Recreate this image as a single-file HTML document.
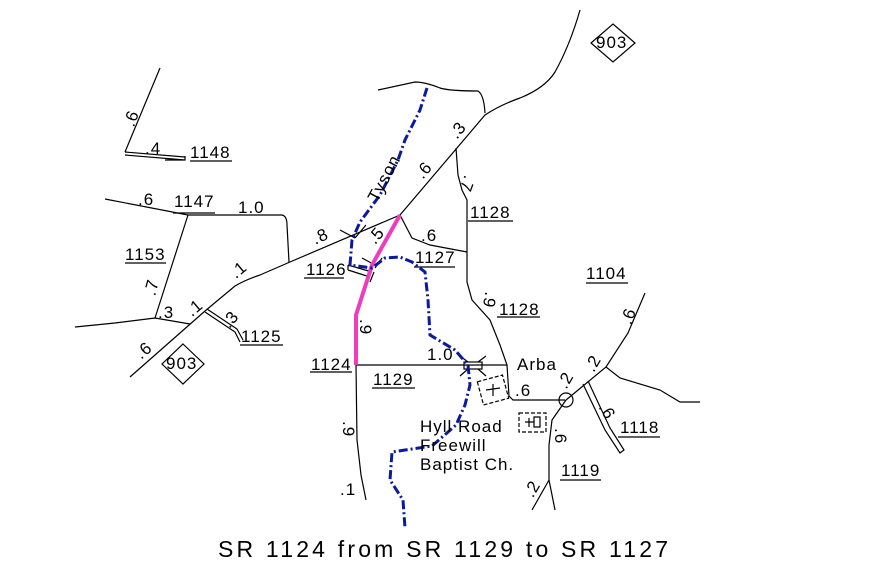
<!DOCTYPE html>
<html><head><meta charset="utf-8"><style>
html,body{margin:0;padding:0;background:#fff;width:878px;height:570px;overflow:hidden}
svg text{font-family:"Liberation Sans",sans-serif;font-size:17px;letter-spacing:1px;fill:#000}
</style></head><body>
<svg width="878" height="570" viewBox="0 0 878 570" xmlns="http://www.w3.org/2000/svg">
<g fill="none" stroke="#000" stroke-width="1.2">
<path d="M160 68 L125 152"/>
<path d="M125 152 L185 157 M125 155 L185 160 M185 156 L185 160 L165 160"/>
<line x1="190" y1="161" x2="232" y2="161"/>
<path d="M105 199 L188 215 L282 215 Q287 216 287 225 L289 262"/>
<line x1="173" y1="213" x2="215" y2="213"/>
<path d="M188 215 L155 318"/>
<line x1="125" y1="263" x2="166" y2="263"/>
<path d="M75 327 L115 323 L155 318 L190 324"/>
<path d="M130 377 L205 311 L235 286 Q245 280 260 275 L290 262 L400 215 L485 115 Q500 105 520 98 Q545 88 555 72 Q570 45 580 10"/>
<path d="M378 90 L415 82 Q425 82 440 88 Q450 91 478 91 Q484 95 485 113"/>
<path d="M205 312 L235 332 L240 342 M207 309 L237 329 L243 340"/>
<line x1="240" y1="345" x2="283" y2="345"/>
<path d="M400 215 L412 238 L430 245 L467 252"/>
<line x1="414" y1="267" x2="455" y2="267"/>
<path d="M456 148 L458 175 L462 190 L467 200 L467 252 L467 282 L472 300 L490 320 L500 345 L507 365 L509 396 L513 400 L565 400"/>
<line x1="468" y1="221" x2="513" y2="221"/>
<line x1="497" y1="317" x2="540" y2="317"/>
<path d="M356 365 L357 440 L361 475 L366 500"/>
<line x1="310" y1="372" x2="352" y2="372"/>
<path d="M356 365 L507 365"/>
<line x1="372" y1="388" x2="415" y2="388"/>
<rect x="464" y="362" width="18" height="7"/>
<path d="M460 356 L468 362 M486 356 L478 362 M460 376 L468 369 M486 376 L478 369"/>
<path d="M348 265 L372 272 M348 270 L370 277 M348 265 L348 270"/>
<line x1="304" y1="278" x2="344" y2="278"/>
<path d="M340 230 L355 238 M366 225 L355 238 M362 258 L375 265 M382 258 L375 268 M370 282 L374 272"/>
<circle cx="566" cy="400" r="7"/>
<path d="M566 400 L552 420 L549 445 L549 480 L532 510 M549 480 L555 510"/>
<path d="M566 400 L583 386 L606 367 L628 333 L645 293"/>
<path d="M606 367 L620 378 L660 390 L680 402 L700 402"/>
<path d="M583 384 L605 430 L620 453 L624 450 L610 428 L588 381"/>
<line x1="560" y1="480" x2="601" y2="480"/>
<line x1="618" y1="437" x2="660" y2="437"/>
<line x1="586" y1="283" x2="628" y2="283"/>
<rect x="480" y="378" width="26" height="24" stroke-dasharray="4,2" transform="rotate(-15 493 390)"/>
<path d="M486 390 L500 388 M493 384 L493 396"/>
<rect x="519" y="413" width="27" height="19" stroke-dasharray="4,2"/>
<path d="M525 422 L534 422 M529 418 L529 427 M534 417 L540 417 L540 427 L534 427 Z"/>
<path d="M613 24 L635 43 L613 62 L591 43 Z"/>
<path d="M183 344 L204 364 L183 384 L162 364 Z"/>
</g>
<path d="M400 215 L372 265 L356 315 L356 365" fill="none" stroke="#ee3cc0" stroke-width="4"/>
<path d="M427 88 L420 110 L405 140 L398 160 L380 195 L360 222 L352 240 L350 265 L372 268 L385 258 L400 257 L412 262 L425 272 L428 300 L430 335 L455 350 L468 365 L470 385 L465 405 L456 425 L432 446 L392 452 L390 480 L403 500 L405 528" fill="none" stroke="#0a1a9e" stroke-width="3" stroke-dasharray="9,3,2,3"/>
<g>
<text x="122" y="125" transform="rotate(-70 130 118)">.6</text>
<text x="145" y="154">.4</text>
<text x="190" y="158">1148</text>
<text x="138" y="205">.6</text>
<text x="174" y="207">1147</text>
<text x="238" y="213">1.0</text>
<text x="125" y="260">1153</text>
<text x="143" y="295" transform="rotate(-75 150 288)">.7</text>
<text x="158" y="318">.3</text>
<text x="186" y="315" transform="rotate(-40 192 308)">.1</text>
<text x="222" y="327" transform="rotate(-50 228 320)">.3</text>
<text x="241" y="342">1125</text>
<text x="135" y="357" transform="rotate(-40 142 350)">.6</text>
<text x="166" y="369" font-size="15" letter-spacing="0">903</text>
<text x="596" y="48" font-size="15" letter-spacing="0">903</text>
<text x="230" y="277" transform="rotate(-40 236 270)">.1</text>
<text x="312" y="242" transform="rotate(-25 320 236)">.8</text>
<text x="355" y="190" transform="rotate(-62 377 178)">Tyson</text>
<text x="368" y="242" transform="rotate(-50 375 236)">.5</text>
<text x="415" y="177" transform="rotate(-50 422 170)">.6</text>
<text x="449" y="137" transform="rotate(-50 456 130)">.3</text>
<text x="461" y="189" transform="rotate(110 468 183)">.7</text>
<text x="470" y="218">1128</text>
<text x="421" y="241">.6</text>
<text x="415" y="263">1127</text>
<text x="306" y="275">1126</text>
<text x="358" y="331" transform="rotate(90 365 326)">.9</text>
<text x="311" y="370">1124</text>
<text x="373" y="385">1129</text>
<text x="427" y="360">1.0</text>
<text x="482" y="306" transform="rotate(100 490 300)">.9</text>
<text x="499" y="315">1128</text>
<text x="586" y="279">1104</text>
<text x="517" y="370">Arba</text>
<text x="515" y="396">.6</text>
<text x="557" y="386" transform="rotate(-60 565 380)">.2</text>
<text x="585" y="370" transform="rotate(-60 592 364)">.2</text>
<text x="620" y="322" transform="rotate(-70 628 316)">.6</text>
<text x="600" y="416" transform="rotate(60 607 410)">.6</text>
<text x="620" y="433">1118</text>
<text x="553" y="440" transform="rotate(90 560 435)">.6</text>
<text x="561" y="476">1119</text>
<text x="525" y="495" transform="rotate(-60 532 490)">.2</text>
<text x="340" y="432" transform="rotate(90 347 428)">.9</text>
<text x="340" y="495">.1</text>
<text x="420" y="432" font-family="Liberation Mono">Hyll Road</text>
<text x="420" y="451" font-family="Liberation Mono">Freewill</text>
<text x="420" y="470" font-family="Liberation Mono">Baptist Ch.</text>
<text x="218" y="557" font-family="Liberation Mono" style="font-size:23px;letter-spacing:0" textLength="450">SR 1124 from SR 1129 to SR 1127</text>
</g>
</svg>
</body></html>
